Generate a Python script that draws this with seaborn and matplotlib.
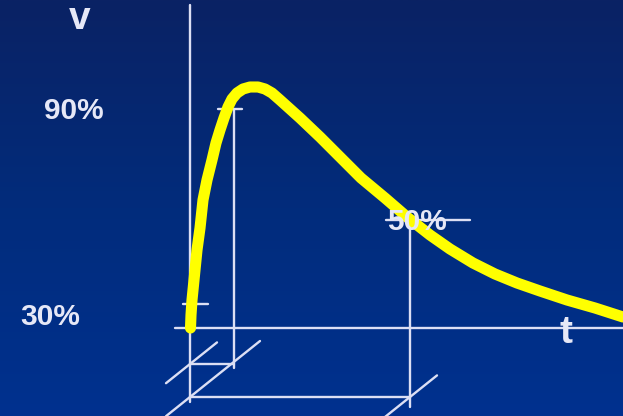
import numpy as np
import pandas as pd
import matplotlib
matplotlib.use("Agg")
import matplotlib.pyplot as plt
import seaborn as sns
from matplotlib.colors import LinearSegmentedColormap

sns.set_style("white")
plt.rcParams['font.family'] = ['Liberation Sans', 'DejaVu Sans']

# Impulse wave (t, v in arbitrary schematic units)
t_curve = [0.5, 1, 2, 4, 7, 10, 13, 17, 22, 26, 30, 34, 38, 42, 47, 53, 60, 68, 75, 82,
           90, 100, 110, 130, 150, 171, 195, 217, 240, 260, 283, 305, 327, 350, 377, 405, 433]
v_curve = [0, 13, 28, 48, 78, 100, 128, 148, 168, 185, 198, 210, 221, 229, 235, 239, 241, 241,
           239, 235, 228, 219, 210, 191, 171, 150, 130, 111, 93, 79, 65, 54, 45, 37, 28, 20, 11]

# Reference levels and times
level_labels = ["90%", "50%", "30%"]
v90, v50, v30 = 219, 108, 24
t90, t50 = 44, 220
row1, row2 = -36, -69   # dimension-line rows below the t axis

W, H = 623, 416
fig = plt.figure(figsize=(W / 100, H / 100), dpi=100)
bg = fig.add_axes([0, 0, 1, 1])
cmap = LinearSegmentedColormap.from_list("bg", ["#0a2264", "#022c7c", "#00318f"])
bg.imshow(np.linspace(0, 1, 256).reshape(-1, 1), aspect="auto", cmap=cmap, extent=[0, 1, 0, 1])
bg.set_axis_off()

ax = fig.add_axes([0, 0, 1, 1])
ax.set_facecolor("none")
ax.set_xlim(-190, W - 190)
ax.set_ylim(-88, H - 88)
ax.set_axis_off()

lc = "#dcdff4"
lw = 1.7

# Axes
ax.plot([0, 0], [-74, 323], color=lc, lw=lw)
ax.plot([-15, W - 190], [0, 0], color=lc, lw=lw)

# 90% marker
ax.plot([t90 - 16, t90 + 8], [v90, v90], color=lc, lw=lw)
ax.plot([t90, t90], [v90, -40], color=lc, lw=lw)
# 30% marker
ax.plot([-7, 18], [v30, v30], color=lc, lw=lw)
# 50% marker
ax.plot([t50 - 24, t50 + 60], [v50, v50], color=lc, lw=lw)
ax.plot([t50, t50], [v50, -79], color=lc, lw=lw)

# Dimension lines
ax.plot([0, t90], [row1, row1], color=lc, lw=lw)
ax.plot([0, t50], [row2, row2], color=lc, lw=lw)
slope = 0.8
for (tc, vc, d1, d2) in [(0, row1, -24, 27), (0, row2, -24, 70), (t50, row2, -27, 27)]:
    ax.plot([tc + d1, tc + d2], [vc + slope * d1, vc + slope * d2], color=lc, lw=lw)

# Curve
df = pd.DataFrame({"t": t_curve, "v": v_curve})
sns.lineplot(data=df, x="t", y="v", ax=ax, color="#ffff00", lw=8, sort=False,
             solid_capstyle="round", solid_joinstyle="round", zorder=3)

# Labels
tc = "#e6e8f7"
ax.text(-116, v90 - 2, level_labels[0], color=tc, fontsize=21.5, fontweight="bold",
        ha="center", va="center")
ax.text(-140, 11, level_labels[2], color=tc, fontsize=21.5, fontweight="bold",
        ha="center", va="center")
ax.text(227, 106, level_labels[1], color=tc, fontsize=21.5, fontweight="bold",
        ha="center", va="center", zorder=4)
ax.text(-110, 299, "v", color=tc, fontsize=28, fontweight="bold", ha="center", va="baseline")
ax.text(376, -5, "t", color=tc, fontsize=28, fontweight="bold", ha="center", va="center")

fig.savefig("out.png", dpi=100)
